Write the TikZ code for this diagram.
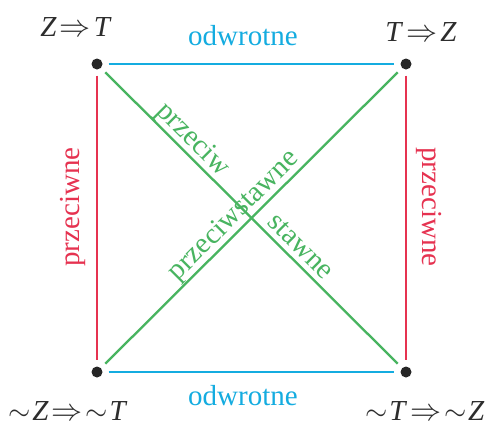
\documentclass[tikz,border=0pt]{standalone}
\usepackage{graphicx}
\usepackage{fontspec}
\setmainfont{Liberation Serif}
\definecolor{cyanline}{RGB}{20,172,224}
\definecolor{redline}{RGB}{230,50,80}
\definecolor{greenline}{RGB}{72,180,96}
\definecolor{dotgray}{RGB}{38,38,38}
\definecolor{labelgray}{RGB}{45,45,45}
\newcommand\myimp{\kern3pt\scalebox{1.25}{$\Rightarrow$}\kern3pt}
\newcommand\mynot{\scalebox{1.15}{$\sim$}\kern1.5pt}
\begin{document}
\begin{tikzpicture}[x=1pt,y=-1pt,
  dot/.style={circle,fill=dotgray,inner sep=0pt,minimum size=11pt},
  conn/.style={line width=2.3pt,shorten <=6pt,shorten >=6pt},
  txt/.style={font=\fontsize{29}{34}\selectfont,inner sep=0pt,anchor=base},
  corner/.style={font=\fontsize{29}{34}\selectfont,inner sep=0pt,anchor=base,text=labelgray}]
\useasboundingbox (0,0) rectangle (489,426);
\fill[white] (0,0) rectangle (489,426);
% dots
\node[dot] (tl) at (97,64) {};
\node[dot] (tr) at (406,64) {};
\node[dot] (bl) at (97,372) {};
\node[dot] (br) at (406,372) {};
% connectors
\draw[conn,cyanline] (tl) -- (tr);
\draw[conn,cyanline] (bl) -- (br);
\draw[conn,redline] (tl) -- (bl);
\draw[conn,redline] (tr) -- (br);
\draw[conn,greenline] (tl) -- (br);
\draw[conn,greenline] (bl) -- (tr);
% corner labels
\node[corner] (ltl) at (76,36) {\textit{Z}\myimp\textit{T}};
\node[corner] (ltr) at (421,41) {\textit{T}\myimp\textit{Z}};
\node[corner] (lbl) at (68,420) {\mynot\textit{Z}\myimp\mynot\textit{T}};
\node[corner] (lbr) at (425,420) {\mynot\textit{T}\myimp\mynot\textit{Z}};
% edge labels
\node[txt,text=cyanline] (otop) at (243,45) {odwrotne};
\node[txt,text=cyanline] (obot) at (243,405) {odwrotne};
\node[txt,text=redline,rotate=90] (pleft) at (79,207) {przeciwne};
\node[txt,text=redline,rotate=-90] (pright) at (422,207) {przeciwne};
\node[txt,text=greenline,rotate=-45] (pa) at (187.9,144.5) {przeciw};
\node[txt,text=greenline,rotate=-45] (pb) at (295.4,251.9) {stawne};
\node[txt,text=greenline,rotate=45] (pc) at (238.7,220.8) {przeciwstawne};
\end{tikzpicture}
\end{document}
